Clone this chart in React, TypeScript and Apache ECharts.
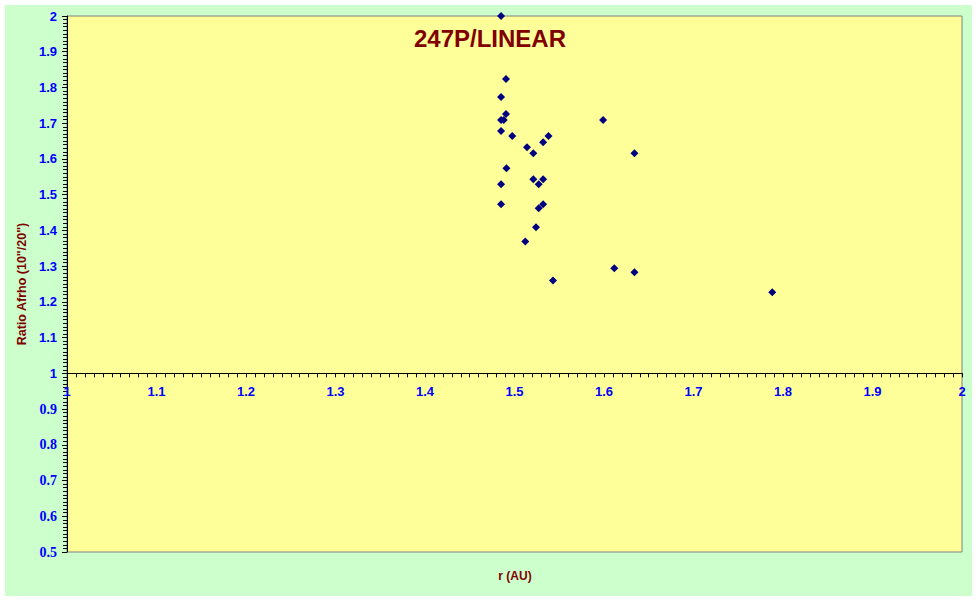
import React, { useEffect, useRef } from "react";
import * as echarts from "echarts";

const titleText = "247P/LINEAR";
const xAxisName = "r (AU)";
const yAxisName = 'Ratio Afrho (10"/20")';

const rValues = [1.485, 1.4905, 1.485, 1.4905, 1.485, 1.488, 1.485, 1.4975, 1.514, 1.532, 1.538, 1.521, 1.599, 1.634, 1.491, 1.485, 1.521, 1.532, 1.527, 1.485, 1.532, 1.527, 1.524, 1.512, 1.6115, 1.634, 1.543, 1.788];
const ratioValues = [2.0, 1.824, 1.773, 1.726, 1.709, 1.709, 1.678, 1.664, 1.633, 1.647, 1.664, 1.616, 1.709, 1.616, 1.574, 1.529, 1.543, 1.543, 1.529, 1.473, 1.473, 1.462, 1.409, 1.369, 1.294, 1.283, 1.26, 1.227];

const yMin = 0.5;
const yMax = 2;
// the x axis crosses the y axis at this ratio value
const crossAt = 1;

const gridTop = 16;
const gridBottom = 49;
const chartH = 601;

export default function App() {
  const ref = useRef<HTMLDivElement>(null);
  useEffect(() => {
    if (!ref.current) return;
    const chart = echarts.init(ref.current, null, { renderer: "svg" });
    const data = rValues.map((r, i) => [r, ratioValues[i]]);
    const plotH = chartH - gridTop - gridBottom;
    const crossOffset = -((crossAt - yMin) / (yMax - yMin)) * plotH;
    chart.setOption({
      animation: false,
      backgroundColor: "transparent",
      grid: {
        left: 67,
        right: 16,
        top: gridTop,
        bottom: gridBottom,
        show: true,
        backgroundColor: "#FFFF99",
        borderColor: "#808080",
        borderWidth: 1,
      },
      graphic: [
        {
          type: "text",
          x: 490,
          y: 38,
          style: {
            text: titleText,
            fill: "#800000",
            font: "bold 24px 'Liberation Sans', Arial, sans-serif",
            textAlign: "center",
            textVerticalAlign: "middle",
          },
        },
        {
          type: "text",
          x: 515,
          y: 576,
          style: {
            text: xAxisName,
            fill: "#800000",
            font: "bold 12px 'Liberation Sans', Arial, sans-serif",
            textAlign: "center",
            textVerticalAlign: "middle",
          },
        },
      ],
      xAxis: {
        type: "value",
        min: 1,
        max: 2,
        interval: 0.1,
        position: "bottom",
        offset: crossOffset,
        axisLine: { show: true, onZero: false, lineStyle: { color: "#000000", width: 1 } },
        axisTick: { show: true, length: 4, lineStyle: { color: "#000000" } },
        minorTick: { show: true, splitNumber: 10, length: 4, lineStyle: { color: "#000000" } },
        splitLine: { show: false },
        axisLabel: {
          margin: 12,
          color: "#0000FF",
          fontWeight: "bold",
          fontSize: 13,
          fontFamily: "'Liberation Sans', Arial, sans-serif",
          formatter: (v: number) => String(Math.round(v * 10) / 10),
        },
      },
      yAxis: {
        type: "value",
        min: yMin,
        max: yMax,
        interval: 0.1,
        name: yAxisName,
        nameLocation: "middle",
        nameGap: 33,
        nameRotate: 90,
        nameTextStyle: {
          color: "#800000",
          fontWeight: "bold",
          fontSize: 12.5,
          fontFamily: "'Liberation Sans', Arial, sans-serif",
        },
        axisLine: { show: true, onZero: false, lineStyle: { color: "#000000", width: 1 } },
        axisTick: { show: true, length: 5, lineStyle: { color: "#000000" } },
        minorTick: { show: true, splitNumber: 10, length: 4, lineStyle: { color: "#000000" } },
        splitLine: { show: false },
        axisLabel: {
          margin: 10,
          color: "#0000FF",
          fontWeight: "bold",
          fontSize: 13,
          fontFamily: "'Liberation Sans', Arial, sans-serif",
          formatter: (v: number) => {
            const r = Math.round(v * 10) / 10;
            return r < 1 ? `{s|${r}}` : String(r);
          },
          rich: {
            s: {
              color: "#0000FF",
              fontWeight: "bold",
              fontSize: 14,
              fontFamily: "'Liberation Serif', 'Times New Roman', serif",
            },
          },
        },
      },
      series: [
        {
          type: "scatter",
          data,
          symbol: "diamond",
          symbolSize: 8,
          clip: false,
          itemStyle: { color: "#000080", opacity: 1 },
        },
      ],
    });
    return () => chart.dispose();
  }, []);

  return (
    <div style={{ position: "fixed", left: 0, top: 0, width: 978, height: 601, background: "#FFFFFF" }}>
      <div style={{ position: "absolute", left: 5, top: 5, width: 967, height: 591, background: "#CCFFCC" }} />
      <div ref={ref} style={{ position: "absolute", left: 0, top: 0, width: 978, height: 601 }} />
    </div>
  );
}
